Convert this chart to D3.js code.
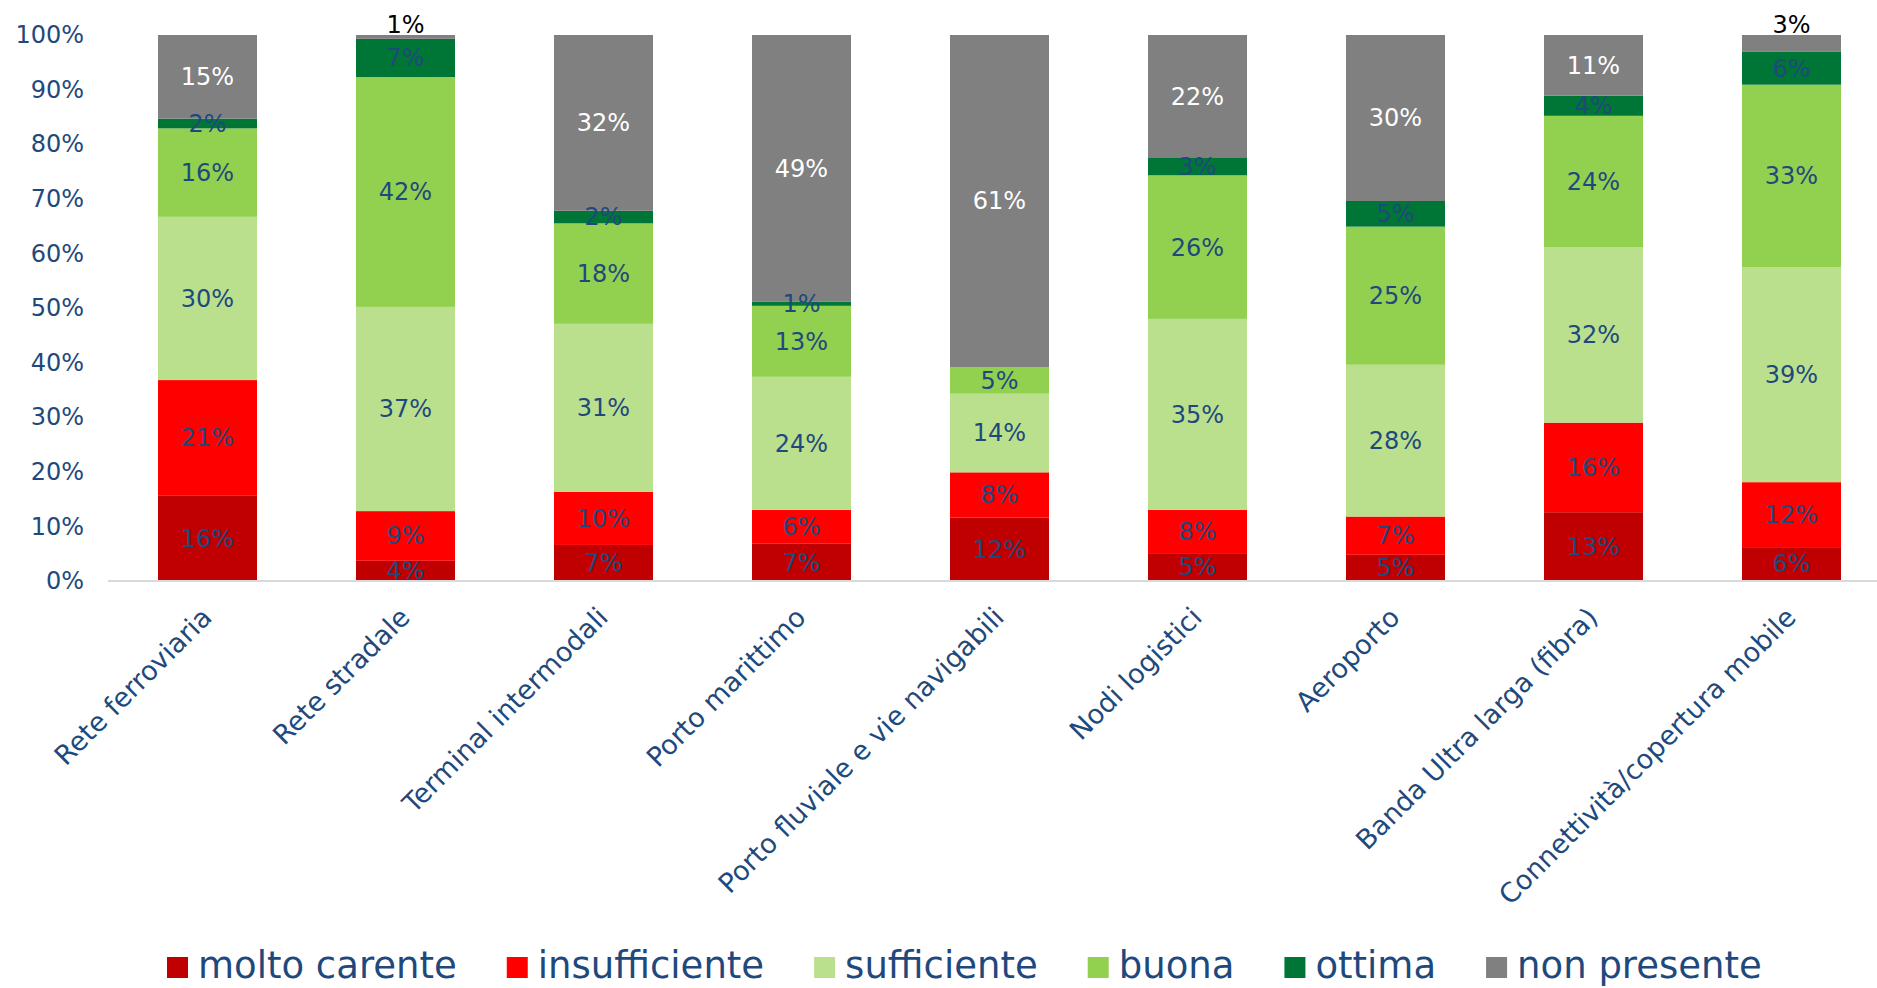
<!DOCTYPE html>
<html><head><meta charset="utf-8">
<script src="https://cdn.jsdelivr.net/npm/d3@7/dist/d3.min.js"></script>
<style>
body{margin:0;background:#fff}
svg{display:block}
text{font-family:"DejaVu Sans",Verdana,sans-serif}
</style>
</head><body>
<svg id="chart" width="1877" height="988"></svg>
<script>
const categories = ["Rete ferroviaria","Rete stradale","Terminal intermodali","Porto marittimo","Porto fluviale e vie navigabili","Nodi logistici","Aeroporto","Banda Ultra larga (fibra)","Connettività/copertura mobile"];
const seriesNames = ["molto carente","insufficiente","sufficiente","buona","ottima","non presente"];
const moltoCarente  = [15.6, 3.7, 6.6, 6.9, 11.6, 5.1, 4.8, 12.6, 6.2];
const insufficiente = [21.2, 9.1, 9.7, 6.1, 8.3, 7.9, 7.0, 16.4, 11.9];
const sufficiente   = [29.9, 37.4, 30.8, 24.4, 14.4, 35.0, 27.8, 32.1, 39.4];
const buona         = [16.2, 42.1, 18.4, 13.0, 4.9, 26.3, 25.3, 24.1, 33.4];
const ottima        = [1.8, 7.0, 2.3, 0.8, 0, 3.3, 4.7, 3.7, 6.0];
const nonPresente   = [15.3, 0.7, 32.2, 48.8, 60.8, 22.4, 30.4, 11.1, 3.1];
const yTicks = [0,10,20,30,40,50,60,70,80,90,100];

const seriesValues = [moltoCarente, insufficiente, sufficiente, buona, ottima, nonPresente];
const colors = ["#C00000","#FF0000","#BBE08D","#92D050","#007636","#808080"];
const textBlue = "#1F497D";

const rows = categories.map((c,i)=>{
  const r = {cat:c};
  seriesNames.forEach((s,j)=>{ r[s] = seriesValues[j][i]; });
  return r;
});
const stacked = d3.stack().keys(seriesNames)(rows);

const svg = d3.select("#chart");
const x = d3.scaleBand().domain(categories).range([108.5, 1890.5]).paddingInner(0.5).paddingOuter(0.25);
const y = d3.scaleLinear().domain([0,100]).range([581,35]);

// y axis labels
const yAxis = d3.axisLeft(y).tickValues(yTicks).tickFormat(d=>d+"%").tickSize(0).tickPadding(0);
const yg = svg.append("g").attr("transform","translate(84,0)").call(yAxis);
yg.select(".domain").remove();
yg.selectAll("text").attr("fill",textBlue).style("font-size","24px").style("font-family","'DejaVu Sans',Verdana,sans-serif");

// bars
const layers = svg.append("g").selectAll("g").data(stacked).join("g").attr("fill",(d,i)=>colors[i]);
layers.selectAll("rect").data(d=>d).join("rect")
  .attr("x",d=>x(d.data.cat))
  .attr("width",x.bandwidth())
  .attr("y",d=>y(d[1]))
  .attr("height",d=>y(d[0])-y(d[1]));

// x axis line
const xAxis = d3.axisBottom(x).tickSize(0).tickFormat("");
const xg = svg.append("g").attr("transform","translate(0,581)").call(xAxis);
xg.select(".domain").attr("stroke","#D9D9D9").attr("stroke-width",2).attr("d","M108,0H1877");

// x labels
svg.append("g").selectAll("text").data(categories).join("text")
  .attr("transform",d=>`translate(${x(d)+x.bandwidth()/2+6},619) rotate(-45)`)
  .attr("text-anchor","end")
  .attr("fill",textBlue)
  .style("font-size","27px")
  .text(d=>d);

// data labels
const lbl = svg.append("g").style("font-size","24px").attr("text-anchor","middle");
stacked.forEach((layer,si)=>{
  layer.forEach(d=>{
    const v = d[1]-d[0];
    if (v <= 0) return;
    const cx = x(d.data.cat)+x.bandwidth()/2;
    const isGray = seriesNames[si]==="non presente";
    let cy = (y(d[0])+y(d[1]))/2, fill = isGray ? "#FFFFFF" : textBlue;
    if (isGray && v < 5) { cy = y(100)-10; fill = "#000000"; }
    lbl.append("text").attr("x",cx).attr("y",cy).attr("dy","0.35em").attr("fill",fill)
      .text(Math.round(v)+"%");
  });
});

// legend
const leg = svg.append("g");
let lx = 167;
seriesNames.forEach((s,i)=>{
  leg.append("rect").attr("x",lx).attr("y",957).attr("width",21).attr("height",21).attr("fill",colors[i]);
  const t = leg.append("text").attr("x",lx+31).attr("y",978).attr("fill",textBlue).style("font-size","37px").text(s);
  lx += 31 + t.node().getComputedTextLength() + 50;
});
</script>
</body></html>
